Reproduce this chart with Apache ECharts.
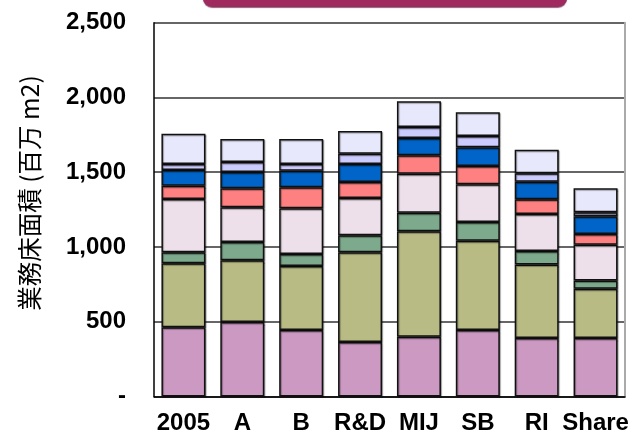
<!DOCTYPE html>
<html><head><meta charset="utf-8">
<script src="https://cdn.jsdelivr.net/npm/echarts@6/dist/echarts.min.js"></script>
<style>html,body{margin:0;padding:0;background:#fff}#c{width:635px;height:445px}</style>
</head><body><div id="c"></div>
<script>
var categories = ['2005','A','B','R&D','MIJ','SB','RI','Share'];
var s1 = [463, 498, 445, 365, 400, 445, 391, 391];
var s2 = [428, 413, 428, 599, 705, 597, 492, 330];
var s3 = [73, 122, 80, 114, 124, 125, 90, 54];
var s4 = [357, 232, 306, 250, 261, 252, 248, 240];
var s5 = [89, 128, 140, 107, 123, 123, 98, 72];
var s6 = [105, 109, 111, 120, 116, 125, 118, 118];
var s7 = [40, 67, 45, 69, 74, 75, 56, 27];
var s8 = [203, 153, 167, 152, 172, 159, 158, 161];
var yTicks = ['-', '500', '1,000', '1,500', '2,000', '2,500'];
var seriesData = [s1, s2, s3, s4, s5, s6, s7, s8];
var colors = ['#CC99C2', '#B8BC84', '#7DAA8C', '#EEE0EA', '#FF8080', '#0064C8', '#CCCCFF', '#E8E8FC'];

var chart = echarts.init(document.getElementById('c'));
var font = '"Liberation Sans", Arial, sans-serif';
chart.setOption({
  animation: false,
  grid: {left: 154, right: 10, top: 22.7, bottom: 48.5},
  xAxis: {
    type: 'category', data: categories,
    axisLine: {lineStyle: {color: '#000', width: 1.5}},
    axisTick: {inside: true, length: 5, lineStyle: {color: '#333', width: 1.5}},
    axisLabel: {color: '#000', fontFamily: font, fontWeight: 'bold', fontSize: 24, margin: 15, interval: 0}
  },
  yAxis: [{
    type: 'value', min: 0, max: 2500, interval: 500,
    axisLine: {show: true, lineStyle: {color: '#000', width: 1.5}},
    axisTick: {show: false},
    splitLine: {lineStyle: {color: '#333', width: 1.5}},
    axisLabel: {color: '#000', fontFamily: font, fontWeight: 'bold', fontSize: 24, margin: 28,
      formatter: function (v) { return yTicks[Math.round(v / 500)]; }}
  }, {
    type: 'value', min: 0, max: 2500, interval: 500, position: 'right',
    axisLine: {show: true, lineStyle: {color: '#aaa', width: 2}},
    axisTick: {show: false}, axisLabel: {show: false}, splitLine: {show: false}
  }],
  series: seriesData.map(function (d, i) {
    return {
      type: 'bar', stack: 'all', data: d, barWidth: 44,
      itemStyle: {color: colors[i], borderColor: '#111', borderWidth: 1.5,
        shadowColor: 'rgba(0,0,0,0.35)', shadowOffsetX: 1, shadowOffsetY: 1, shadowBlur: 1}
    };
  }),
  graphic: [
    {type: 'rect', shape: {x: 203, y: -12, width: 364, height: 19, r: [0, 0, 9, 9]},
      style: {fill: '#A0295F', shadowColor: 'rgba(60,0,30,0.6)', shadowOffsetY: 1, shadowBlur: 1}},
    {type: 'text', x: 30, y: 193, rotation: Math.PI / 2,
      style: {text: '業務床面積 (百万 m2)', font: '24.5px "Noto Sans CJK JP", sans-serif', fill: '#000',
        align: 'center', verticalAlign: 'middle'}}
  ]
});
</script></body></html>
